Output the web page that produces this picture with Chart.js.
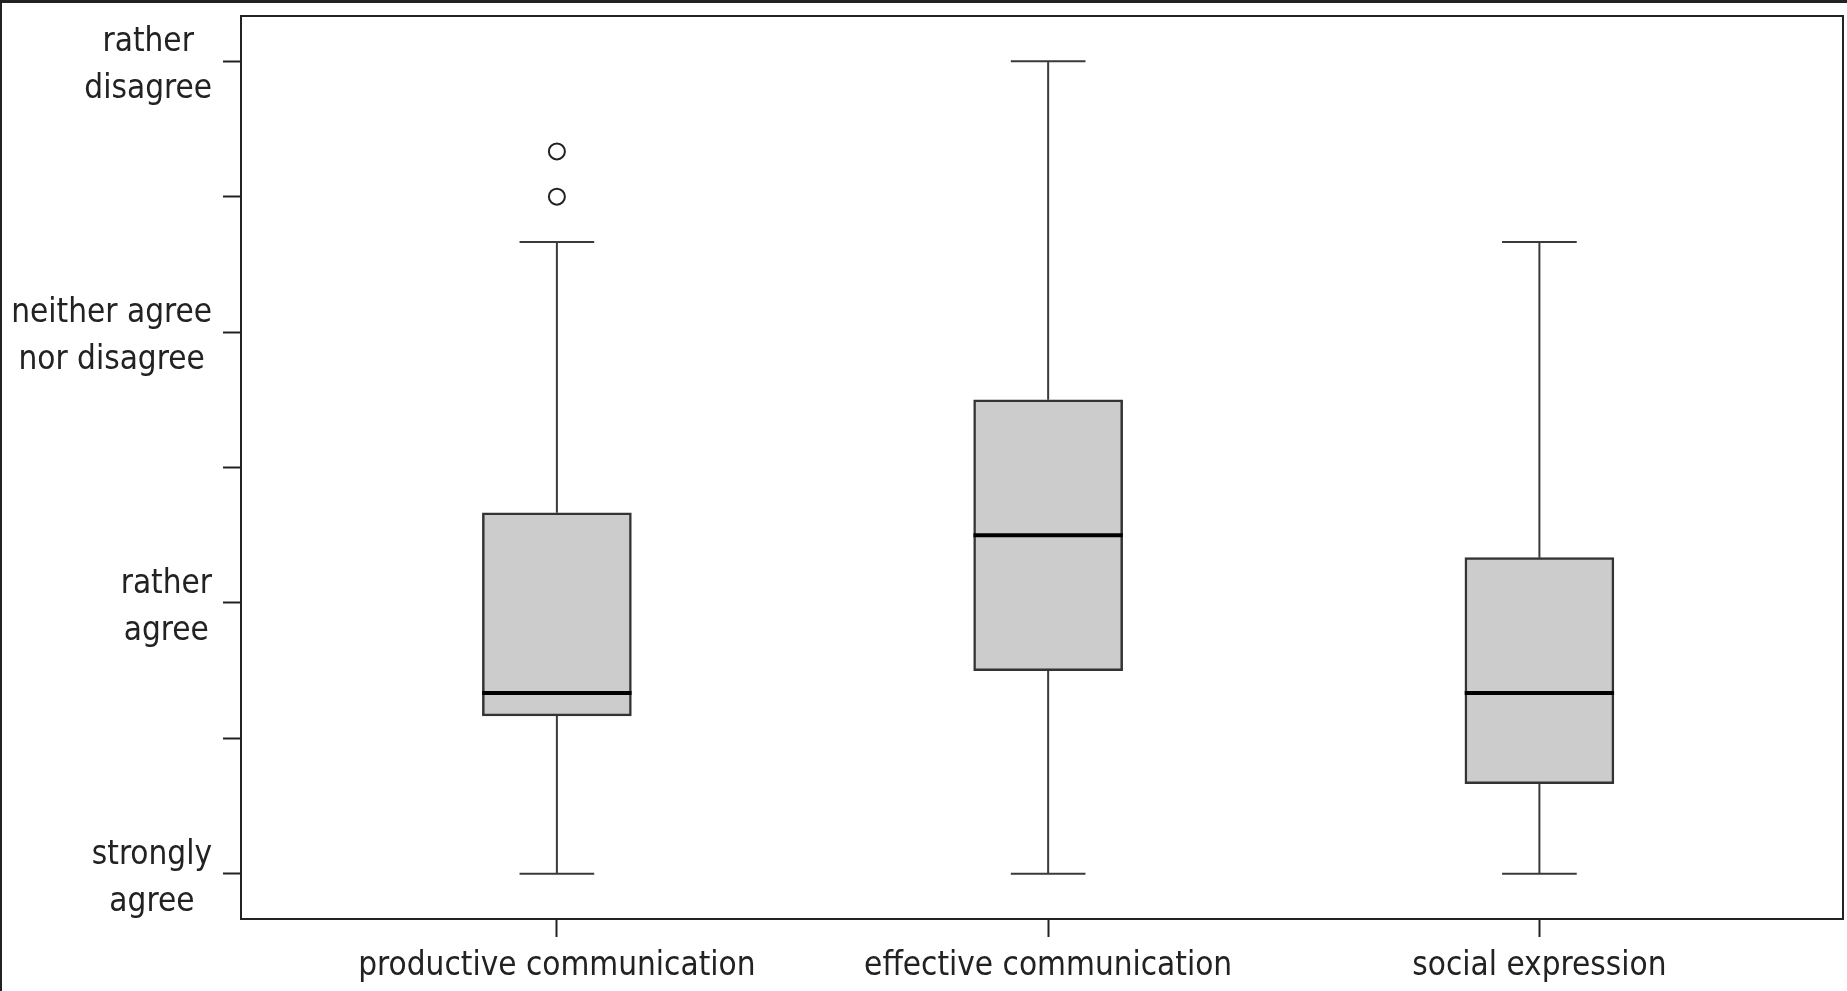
<!DOCTYPE html>
<html>
<head>
<meta charset="utf-8">
<title>Boxplot</title>
<script src="https://cdn.jsdelivr.net/npm/chart.js@4/dist/chart.umd.min.js"></script>
<style>
  html, body { margin: 0; padding: 0; background: #fff; overflow: hidden; }
  #wrap { position: relative; width: 1847px; height: 991px; overflow: hidden; }
  #chart { position: absolute; left: 0; top: 0; }
  #edge { position: absolute; left: 0; top: 0; width: 1847px; height: 991px; box-sizing: border-box;
          border-top: 3px solid #222; border-left: 2px solid #222; pointer-events: none; }
</style>
</head>
<body>
<div id="wrap">
  <canvas id="chart" width="1847" height="991"></canvas>
  <div id="edge"></div>
</div>
<script>
const categories = ["productive communication", "effective communication", "social expression"];
const whiskerLow = [1, 1, 1];
const q1 = [1.583, 1.75, 1.333];
const medians = [1.667, 2.25, 1.667];
const q3 = [2.333, 2.75, 2.167];
const whiskerHigh = [3.333, 4, 3.333];
const outliers = [[3.5, 3.667], [], []];

const yTickValues = [1, 1.5, 2, 2.5, 3, 3.5, 4];
const yTickText = [["strongly", "agree"], [], ["rather", "agree"], [], ["neither agree", "nor disagree"], [], ["rather", "disagree"]];

const FONT = '"Liberation Sans Narrow", "DejaVu Sans Condensed", "Open Sans", sans-serif';
const FONT_SIZE = 33;
const INK = "#222";
const boxHalf = 0.152;   // half box width, x units
const capHalf = 0.076;   // half whisker cap width

// build line segments, broken by null points
function segments(list) {
  const pts = [];
  list.forEach(s => {
    pts.push({ x: s[0], y: s[1] }, { x: s[2], y: s[3] }, { x: s[2], y: null });
  });
  return pts;
}

const whiskerLines = [];
const capLines = [];
const medianLines = [];
categories.forEach((c, i) => {
  const x = i + 1;
  whiskerLines.push([x, q3[i], x, whiskerHigh[i]], [x, q1[i], x, whiskerLow[i]]);
  capLines.push([x - capHalf, whiskerHigh[i], x + capHalf, whiskerHigh[i]]);
  capLines.push([x - capHalf, whiskerLow[i], x + capHalf, whiskerLow[i]]);
  medianLines.push([x - boxHalf, medians[i], x + boxHalf, medians[i]]);
});

const outlierPoints = [];
outliers.forEach((list, i) => list.forEach(v => outlierPoints.push({ x: i + 1, y: v })));

// frame around the plot area and centred y labels
const framePlugin = {
  id: "frame",
  afterDraw(chart) {
    const ctx = chart.ctx;
    const a = chart.chartArea;
    ctx.save();
    ctx.strokeStyle = INK;
    ctx.lineWidth = 2;
    ctx.strokeRect(a.left, a.top, a.right - a.left, a.bottom - a.top);

    const yScale = chart.scales.y;
    ctx.font = FONT_SIZE + "px " + FONT;
    ctx.fillStyle = INK;
    ctx.textAlign = "center";
    ctx.textBaseline = "middle";
    const rightEdge = a.left - 29;
    const lineH = 47;
    yTickValues.forEach((v, i) => {
      const lines = yTickText[i];
      if (!lines.length) return;
      const w = Math.max(...lines.map(l => ctx.measureText(l).width));
      const cx = rightEdge - w / 2;
      const cy = yScale.getPixelForValue(v) + 5;
      lines.forEach((l, k) => {
        ctx.fillText(l, cx, cy - (lines.length - 1) * lineH / 2 + k * lineH);
      });
    });
    ctx.restore();
  }
};

new Chart(document.getElementById("chart"), {
  type: "bar",
  data: {
    datasets: [
      {
        type: "line",
        data: segments(medianLines),
        borderColor: "#000",
        borderWidth: 4,
        pointRadius: 0,
        spanGaps: false,
        order: 1
      },
      {
        type: "line",
        data: outlierPoints,
        showLine: false,
        pointRadius: 8,
        pointBorderWidth: 2,
        pointBackgroundColor: "#fff",
        pointBorderColor: INK,
        order: 2
      },
      {
        type: "line",
        data: segments(whiskerLines.concat(capLines)),
        borderColor: "#3a3a3a",
        borderWidth: 2,
        pointRadius: 0,
        spanGaps: false,
        order: 4
      },
      {
        type: "bar",
        data: categories.map((c, i) => ({ x: i + 1, y: [q1[i], q3[i]] })),
        backgroundColor: "#cccccc",
        borderColor: "#333",
        borderWidth: 2.5,
        borderSkipped: false,
        barThickness: 149,
        order: 5
      }
    ]
  },
  options: {
    responsive: false,
    animation: false,
    devicePixelRatio: 1,
    layout: { autoPadding: false, padding: { top: 16, right: 4, left: 0, bottom: 0 } },
    plugins: { legend: { display: false }, tooltip: { enabled: false } },
    scales: {
      x: {
        type: "linear",
        min: 0.357,
        max: 3.618,
        offset: false,
        afterBuildTicks: s => { s.ticks = categories.map((c, i) => ({ value: i + 1 })); },
        afterFit: s => { s.height = 72; s.paddingLeft = 0; s.paddingRight = 0; },
        border: { display: false },
        grid: { offset: false, drawOnChartArea: false, drawTicks: true, tickLength: 18, tickWidth: 2, tickColor: INK },
        ticks: {
          padding: 10,
          maxRotation: 0,
          autoSkip: false,
          color: INK,
          font: { family: FONT, size: FONT_SIZE },
          callback: v => categories[v - 1] || ""
        }
      },
      y: {
        min: 0.833,
        max: 4.167,
        afterBuildTicks: s => { s.ticks = yTickValues.map(v => ({ value: v })); },
        afterFit: s => { s.width = 241; s.paddingTop = 0; s.paddingBottom = 0; },
        border: { display: false },
        grid: { drawOnChartArea: false, drawTicks: true, tickLength: 18, tickWidth: 2, tickColor: INK },
        ticks: { display: false }
      }
    }
  },
  plugins: [framePlugin]
});
</script>
</body>
</html>
